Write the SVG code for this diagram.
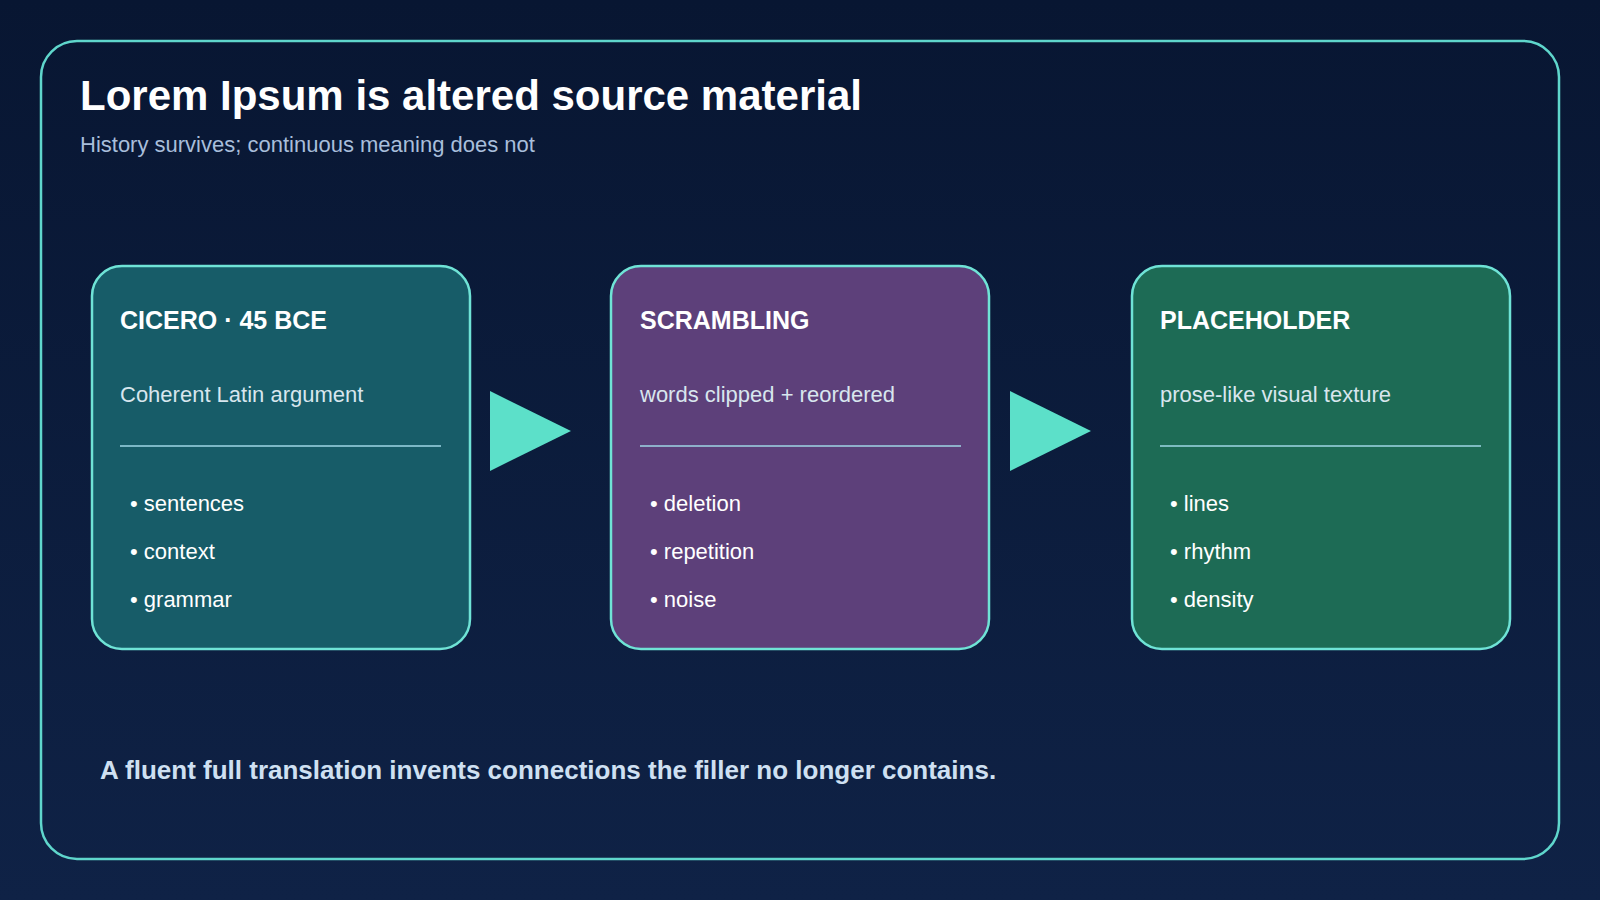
<svg xmlns="http://www.w3.org/2000/svg" width="1600" height="900" viewBox="0 0 1600 900">
<defs>
<linearGradient id="bg" x1="0" y1="0" x2="0" y2="1"><stop offset="0" stop-color="#081632"/><stop offset="1" stop-color="#0f2246"/></linearGradient>
<style>
text{font-family:"Liberation Sans",Arial,sans-serif}
.card{stroke:#6fe3d6;stroke-width:2.5}
.h{font-size:25px;font-weight:bold;fill:#ffffff}
.s{font-size:22px;fill:#d8e6ee}
.b{font-size:22px;fill:#ffffff}
.rule{stroke:#9fd6e6;stroke-width:1.5}
.arr{fill:#5ce0c9}
</style>
</defs>
<rect width="1600" height="900" fill="url(#bg)"/>
<rect x="41" y="41" width="1518" height="818" rx="36" fill="none" stroke="#5fd6cc" stroke-width="2.5"/>
<text x="80" y="110" font-size="42" font-weight="bold" fill="#ffffff">Lorem Ipsum is altered source material</text>
<text x="80" y="152" font-size="22" fill="#a8bedb">History survives; continuous meaning does not</text>
<g id="card1">
<rect class="card" x="92" y="266" width="378" height="383" rx="30" fill="#175c68"/>
<text class="h" x="120" y="329">CICERO · 45 BCE</text>
<text class="s" x="120" y="402">Coherent Latin argument</text>
<line class="rule" x1="120" y1="446" x2="441" y2="446"/>
<text class="b" x="130" y="511">• sentences</text>
<text class="b" x="130" y="559">• context</text>
<text class="b" x="130" y="607">• grammar</text>
</g>
<g id="card2">
<rect class="card" x="611" y="266" width="378" height="383" rx="30" fill="#5d407a"/>
<text class="h" x="640" y="329">SCRAMBLING</text>
<text class="s" x="640" y="402">words clipped + reordered</text>
<line class="rule" x1="640" y1="446" x2="961" y2="446"/>
<text class="b" x="650" y="511">• deletion</text>
<text class="b" x="650" y="559">• repetition</text>
<text class="b" x="650" y="607">• noise</text>
</g>
<g id="card3">
<rect class="card" x="1132" y="266" width="378" height="383" rx="30" fill="#1d6b55"/>
<text class="h" x="1160" y="329">PLACEHOLDER</text>
<text class="s" x="1160" y="402">prose-like visual texture</text>
<line class="rule" x1="1160" y1="446" x2="1481" y2="446"/>
<text class="b" x="1170" y="511">• lines</text>
<text class="b" x="1170" y="559">• rhythm</text>
<text class="b" x="1170" y="607">• density</text>
</g>
<g id="connectors">
<polygon class="arr" points="490,391 571,431 490,471"/>
<polygon class="arr" points="1010,391 1091,431 1010,471"/>
</g>
<text x="100" y="779" font-size="26" font-weight="bold" fill="#cfe0f2">A fluent full translation invents connections the filler no longer contains.</text>
</svg>
